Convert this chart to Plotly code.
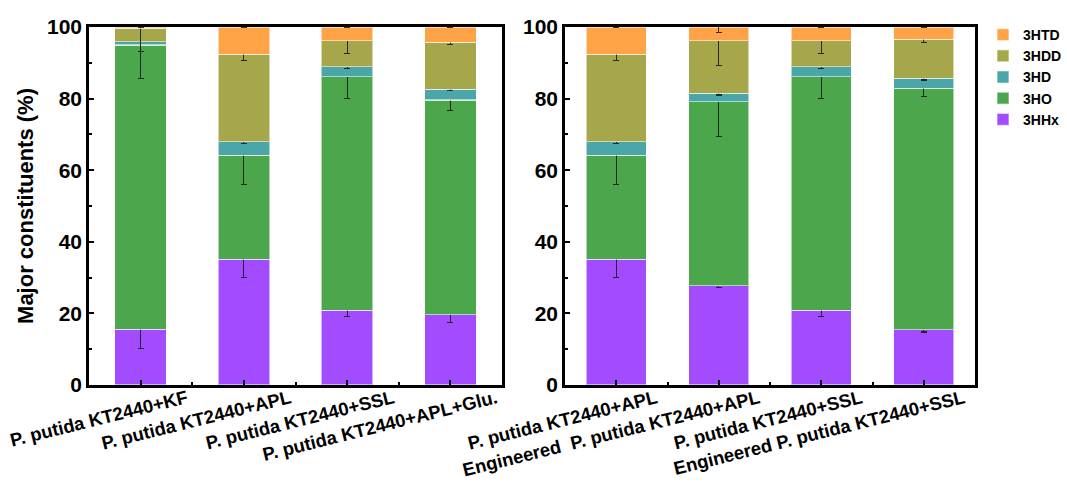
import plotly.graph_objects as go

# ---------------- data ----------------
series = ["3HHx", "3HO", "3HD", "3HDD", "3HTD"]
colors = ["#A34BFF", "#4CA64C", "#4AA6A8", "#A6A64A", "#FFA346"]

left_labels = ["P. putida KT2440+KF", "P. putida KT2440+APL",
               "P. putida KT2440+SSL", "P. putida KT2440+APL+Glu."]
right_labels = ["P. putida KT2440+APL", "Engineered  P. putida KT2440+APL",
                "P. putida KT2440+SSL", "Engineered P. putida KT2440+SSL"]

# composition (%) per series, one value per bar
left_vals = {
    "3HHx": [15.6, 35.1, 20.9, 19.6],
    "3HO":  [79.4, 29.1, 65.2, 60.0],
    "3HD":  [0.9, 3.8, 2.8, 3.0],
    "3HDD": [3.8, 24.4, 7.3, 13.1],
    "3HTD": [0.3, 7.6, 3.8, 4.3],
}
left_err = {
    "3HHx": [5.3, 5.1, 1.8, 2.1],
    "3HO":  [9.3, 8.1, 6.0, 3.0],
    "3HD":  [0.0, 0.5, 0.4, 0.4],
    "3HDD": [6.5, 1.8, 3.7, 0.6],
    "3HTD": [0.0, 0.0, 0.0, 0.0],
}
right_vals = {
    "3HHx": [35.1, 27.7, 20.9, 15.4],
    "3HO":  [29.1, 51.4, 65.2, 67.5],
    "3HD":  [3.8, 2.4, 2.8, 2.8],
    "3HDD": [24.4, 14.7, 7.3, 10.9],
    "3HTD": [7.6, 3.8, 3.8, 3.4],
}
right_err = {
    "3HHx": [5.1, 0.4, 1.8, 0.6],
    "3HO":  [8.1, 9.7, 6.0, 2.3],
    "3HD":  [0.5, 0.5, 0.4, 0.5],
    "3HDD": [1.8, 7.0, 3.7, 0.9],
    "3HTD": [0.0, 1.5, 0.0, 0.0],
}
y_ticks = [0, 20, 40, 60, 80, 100]

# ---------------- figure ----------------
W, H = 1067, 483
fig = go.Figure()
FONT = "Liberation Sans, Arial, sans-serif"

def add_panel(labels, vals, errs, xa, ya, width, show):
    xs = list(range(len(labels)))
    for name, col in zip(series, colors):
        fig.add_trace(go.Bar(
            x=xs, y=vals[name], name=name, width=width,
            marker=dict(color=col, line=dict(color="rgba(255,255,255,0.55)", width=1.2)),
            error_y=dict(type="data", array=errs[name], visible=True,
                         color="rgba(20,20,20,0.85)", thickness=1.1, width=3),
            xaxis=xa, yaxis=ya, showlegend=show, legendgroup=name,
        ))

add_panel(left_labels, left_vals, left_err, "x", "y", 0.5, True)
add_panel(right_labels, right_vals, right_err, "x2", "y2", 0.59, False)

frame = dict(showline=True, linecolor="black", linewidth=2.5, mirror=True,
             ticks="inside", tickcolor="black", tickwidth=2, showgrid=False,
             zeroline=False)

def xaxis(labels, dom, shift):
    n = len(labels)
    return dict(domain=dom, range=[-0.5, n - 0.5], tickmode="array",
                tickvals=list(range(n)), ticktext=labels, tickangle=-14,
                ticklen=5, ticklabelshift=shift, ticklabelstandoff=-7,
                tickfont=dict(family=FONT, size=18.5, color="black", weight="bold"),
                minor=dict(tickmode="array", tickvals=[i + 0.5 for i in range(n - 1)],
                           ticks="inside", ticklen=3, tickcolor="black", tickwidth=2),
                automargin=False, **frame)

def yaxis(dom, anchor, title):
    d = dict(domain=dom, range=[0, 100], tickmode="array", tickvals=y_ticks,
             ticklen=5, anchor=anchor,
             tickfont=dict(family=FONT, size=21, color="black", weight="bold"),
             minor=dict(dtick=10, ticks="inside", ticklen=3, tickcolor="black", tickwidth=2),
             automargin=False, **frame)
    if title:
        d["title"] = dict(text=title, standoff=8,
                          font=dict(family=FONT, size=22, color="black", weight="bold"))
    return d

ydom = [1 - 385 / H, 1 - 27 / H]
fig.update_layout(
    width=W, height=H, barmode="stack",
    margin=dict(l=0, r=0, t=0, b=0),
    paper_bgcolor="white", plot_bgcolor="white",
    xaxis=xaxis(left_labels, [89 / W, 502 / W], 46),
    xaxis2=xaxis(right_labels, [565 / W, 975 / W], 40),
    yaxis=yaxis(ydom, "x", "Major constituents (%)"),
    yaxis2=yaxis(ydom, "x2", None),
    legend=dict(x=983 / W, y=1 - 19 / H, xanchor="left", yanchor="top",
                traceorder="reversed", bgcolor="rgba(0,0,0,0)",
                font=dict(family=FONT, size=14, color="black", weight="bold"),
                tracegroupgap=0),
    font=dict(family=FONT),
)
fig.update_layout(xaxis2_anchor="y2")

fig.write_html("out.html")
